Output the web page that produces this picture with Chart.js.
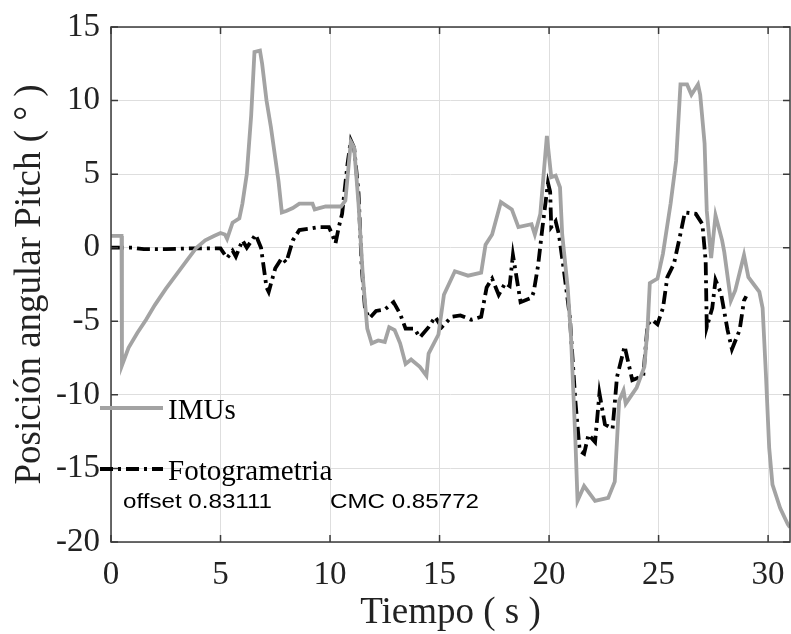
<!DOCTYPE html>
<html>
<head>
<meta charset="utf-8">
<script src="https://cdn.jsdelivr.net/npm/chart.js@4.4.1/dist/chart.umd.min.js"></script>
<style>
    html, body { margin: 0; padding: 0; background: #fff; }
    #wrap { width: 791px; height: 634px; }
</style>
</head>
<body>
<div id="wrap"><canvas id="chart"></canvas></div>
<script>
// IMUs (gray, solid)
const imuTime = [0, 0.48, 0.5, 0.8, 1.2, 1.6, 2.0, 2.5, 3.0, 3.5, 3.9, 4.3, 4.7, 5.0, 5.2, 5.3, 5.55, 5.86, 6.0, 6.2, 6.4, 6.55, 6.8, 6.9, 7.1, 7.3, 7.5, 7.65, 7.8, 8.0, 8.3, 8.6, 9.0, 9.2, 9.3, 9.8, 10.5, 10.7, 10.95, 11.1, 11.3, 11.5, 11.7, 11.9, 12.2, 12.5, 12.7, 12.95, 13.2, 13.45, 13.7, 14.1, 14.4, 14.5, 14.95, 15.2, 15.7, 16.3, 16.9, 17.1, 17.4, 17.8, 18.3, 18.6, 19.2, 19.35, 19.6, 19.9, 20.1, 20.3, 20.5, 20.6, 20.85, 21.0, 21.2, 21.3, 21.6, 22.1, 22.7, 23.0, 23.2, 23.4, 23.5, 24.0, 24.35, 24.5, 24.6, 24.95, 25.2, 25.55, 25.8, 26.0, 26.3, 26.5, 26.8, 26.9, 27.1, 27.2, 27.4, 27.6, 27.9, 28.0, 28.3, 28.5, 28.9, 29.1, 29.35, 29.6, 29.75, 29.9, 30.05, 30.2, 30.55, 30.9, 31];
const imuPitch = [0.8, 0.8, -8.0, -6.8, -5.8, -4.9, -3.9, -2.8, -1.8, -0.8, 0.0, 0.5, 0.8, 1.0, 0.9, 0.6, 1.7, 2.0, 3.0, 5.0, 9.0, 13.3, 13.4, 12.5, 10.0, 8.2, 6.1, 4.5, 2.4, 2.5, 2.7, 3.0, 3.0, 3.0, 2.6, 2.8, 2.8, 3.2, 7.2, 6.8, 3.0, -2.0, -5.5, -6.5, -6.3, -6.4, -5.4, -5.6, -6.5, -7.9, -7.6, -8.1, -8.7, -7.2, -5.9, -3.2, -1.6, -1.9, -1.7, 0.2, 0.9, 3.1, 2.6, 1.4, 1.6, 0.9, 2.3, 7.6, 4.8, 4.9, 4.1, 0.9, -2.7, -6.0, -13.0, -17.2, -16.2, -17.2, -17.0, -15.9, -10.4, -9.7, -10.6, -9.5, -8.1, -5.4, -2.4, -2.1, -0.4, 3.0, 5.9, 11.1, 11.1, 10.4, 11.1, 10.4, 7.1, 2.5, -0.7, 2.2, 0.5, -0.3, -3.6, -2.9, -0.5, -2.0, -2.5, -3.0, -4.1, -8.6, -13.6, -16.1, -17.7, -18.8, -19.0];

// Fotogrametria (black, dash-dot)
const fotoTime = [0, 1.0, 1.5, 2.5, 3.5, 5.0, 5.3, 5.55, 5.7, 6.0, 6.2, 6.6, 6.85, 7.1, 7.2, 7.5, 7.8, 8.0, 8.3, 8.6, 9.1, 9.5, 9.95, 10.1, 10.25, 10.4, 10.55, 10.8, 10.95, 11.1, 11.3, 11.45, 11.6, 11.8, 12.1, 12.5, 12.9, 13.2, 13.45, 13.85, 14.1, 14.5, 14.8, 15.1, 15.55, 15.95, 16.45, 16.9, 17.15, 17.4, 17.7, 18.0, 18.2, 18.35, 18.7, 19.2, 19.3, 19.5, 19.7, 19.95, 20.05, 20.1, 20.3, 20.45, 20.7, 20.95, 21.0, 21.2, 21.4, 21.6, 21.8, 22.1, 22.3, 22.55, 22.9, 23.1, 23.45, 23.8, 24.3, 24.5, 24.7, 24.95, 25.2, 25.4, 25.7, 25.95, 26.2, 26.7, 27.0, 27.15, 27.2, 27.45, 27.6, 27.85, 28.15, 28.35, 28.7, 28.9, 29.0];
const fotoPitch = [0, 0, -0.1, -0.1, -0.05, -0.05, -0.7, -0.2, -0.6, 0.5, 0.0, 0.9, 0.0, -2.7, -3.0, -1.4, -0.7, -1.0, 0.5, 1.2, 1.3, 1.4, 1.4, 0.9, 0.3, 1.4, 2.3, 5.7, 7.3, 6.8, 3.7, -1.4, -4.2, -4.8, -4.3, -4.2, -3.7, -4.5, -5.5, -5.5, -6.1, -5.4, -4.7, -5.4, -4.7, -4.6, -4.9, -4.7, -2.7, -2.1, -3.2, -2.4, -2.6, -0.5, -3.7, -3.4, -3.0, -1.2, 1.4, 4.4, 3.8, 1.4, 1.8, 0.9, -1.8, -4.7, -5.9, -10.4, -13.8, -14.0, -12.7, -13.2, -9.9, -12.0, -12.3, -8.8, -6.7, -9.0, -8.7, -5.2, -4.9, -5.2, -4.1, -2.0, -1.1, 0.6, 2.4, 2.3, 1.6, -0.9, -5.4, -4.1, -2.2, -3.1, -5.6, -6.9, -5.6, -3.6, -3.3];

const xTicks = [0, 5, 10, 15, 20, 25, 30];
const yTicks = [-20, -15, -10, -5, 0, 5, 10, 15];
const seriesNames = ['IMUs', 'Fotogrametria'];
const noteOffset = 'offset 0.83111';
const noteCmc = 'CMC 0.85772';

const imuColor = '#a3a3a3';
const fotoColor = '#000000';
const fotoDash = [13, 5, 3, 5];
const serif = '"Liberation Serif", "Times New Roman", serif';

function zip(xs, ys) {
    return xs.map((x, i) => ({ x: x, y: ys[i] }));
}

// box, inward tick marks, legend and notes
const matlabAxes = {
    id: 'matlabAxes',
    afterDatasetsDraw(chart) {
        const ctx = chart.ctx;
        const a = chart.chartArea;
        const xs = chart.scales.x;
        const ys = chart.scales.y;
        ctx.save();
        ctx.strokeStyle = '#3a3a3a';
        ctx.lineWidth = 1.5;
        ctx.strokeRect(a.left, a.top, a.right - a.left, a.bottom - a.top);
        ctx.beginPath();
        xTicks.forEach(v => {
            const px = xs.getPixelForValue(v);
            ctx.moveTo(px, a.bottom); ctx.lineTo(px, a.bottom - 7);
            ctx.moveTo(px, a.top); ctx.lineTo(px, a.top + 7);
        });
        yTicks.forEach(v => {
            const py = ys.getPixelForValue(v);
            ctx.moveTo(a.left, py); ctx.lineTo(a.left + 7, py);
            ctx.moveTo(a.right, py); ctx.lineTo(a.right - 7, py);
        });
        ctx.stroke();

        // legend
        const lx0 = a.left - 11, lx1 = a.left + 52;
        ctx.lineWidth = 3.8;
        ctx.strokeStyle = imuColor;
        ctx.beginPath(); ctx.moveTo(lx0, 408); ctx.lineTo(lx1, 408); ctx.stroke();
        ctx.strokeStyle = fotoColor;
        ctx.setLineDash(fotoDash);
        ctx.beginPath(); ctx.moveTo(lx0, 469); ctx.lineTo(lx1, 469); ctx.stroke();
        ctx.setLineDash([]);
        ctx.fillStyle = '#000';
        ctx.font = '29px ' + serif;
        ctx.textBaseline = 'alphabetic';
        ctx.textAlign = 'left';
        ctx.fillText(seriesNames[0], a.left + 57, 419);
        ctx.fillText(seriesNames[1], a.left + 57, 480);

        // notes, slightly wide like the source figure
        ctx.font = '21px "Liberation Sans", Arial, sans-serif';
        ctx.translate(a.left + 12, 508);
        ctx.scale(1.15, 1);
        ctx.fillText(noteOffset, 0, 0);
        ctx.fillText(noteCmc, 207 / 1.15, 0);
        ctx.restore();
    }
};

const ctx = document.getElementById('chart').getContext('2d');
new Chart(ctx, {
    type: 'line',
    data: {
        datasets: [
            {
                label: seriesNames[0],
                data: zip(imuTime, imuPitch),
                borderColor: imuColor,
                borderWidth: 3.8,
                pointRadius: 0,
                tension: 0
            },
            {
                label: seriesNames[1],
                data: zip(fotoTime, fotoPitch),
                borderColor: fotoColor,
                borderWidth: 3.8,
                borderDash: fotoDash,
                pointRadius: 0,
                tension: 0
            }
        ]
    },
    options: {
        responsive: true,
        maintainAspectRatio: false,
        animation: false,
        layout: { padding: { top: 27, right: 1, left: 0, bottom: 0 } },
        plugins: {
            legend: { display: false },
            tooltip: { enabled: false }
        },
        scales: {
            x: {
                type: 'linear',
                min: 0,
                max: 31,
                afterBuildTicks: s => { s.ticks = xTicks.map(v => ({ value: v })); },
                afterFit: s => {
                    s.height = 92;
                    s.paddingLeft = 0;
                    s.paddingRight = 0;
                },
                ticks: {
                    color: '#222',
                    padding: 14,
                    maxRotation: 0,
                    font: { family: serif, size: 33 }
                },
                grid: { color: '#dedede', lineWidth: 1, drawTicks: false },
                border: { display: false },
                title: {
                    display: true,
                    text: 'Tiempo ( s )',
                    color: '#222',
                    font: { family: serif, size: 37, lineHeight: 1 },
                    padding: { top: 0, bottom: 2 }
                }
            },
            y: {
                min: -20,
                max: 15,
                afterBuildTicks: s => { s.ticks = yTicks.map(v => ({ value: v })); },
                afterFit: s => {
                    s.width = 111;
                    s.paddingTop = 0;
                    s.paddingBottom = 0;
                },
                ticks: {
                    color: '#222',
                    padding: 11,
                    font: { family: serif, size: 33 }
                },
                grid: { color: '#dedede', lineWidth: 1, drawTicks: false },
                border: { display: false },
                title: {
                    display: true,
                    text: 'Posición angular Pitch ( ° )',
                    color: '#222',
                    font: { family: serif, size: 37 },
                    padding: { top: 8, bottom: 0 }
                }
            }
        }
    },
    plugins: [matlabAxes]
});
</script>
</body>
</html>
